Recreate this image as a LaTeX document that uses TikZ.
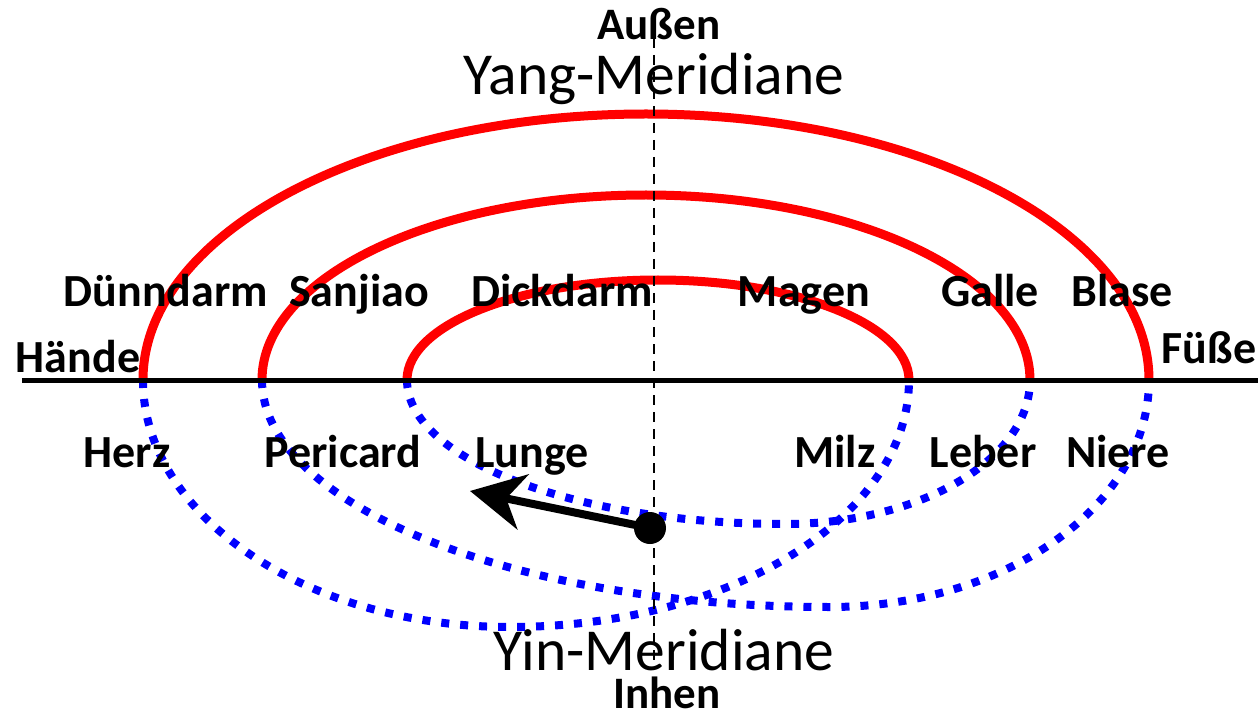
\documentclass[tikz,border=0pt]{standalone}
\usepackage{fontspec}
\setmainfont{Carlito}
\usetikzlibrary{arrows.meta}

\begin{document}
\begin{tikzpicture}[x=1pt, y=1pt,
    yang/.style={red, line width=9pt},
    yin/.style={blue, line width=8pt, dash pattern=on 8pt off 11pt},
    organ/.style={font=\fontsize{46}{46}\selectfont\bfseries, anchor=base, inner sep=0pt},
    pole/.style={font=\fontsize{45}{45}\selectfont\bfseries, anchor=base, inner sep=0pt},
    group/.style={font=\fontsize{59.5}{59.5}\selectfont, anchor=base, inner sep=0pt}]
  \useasboundingbox (-654,-335) rectangle (604,380);
  \coordinate (h1) at (-511,0);
  \coordinate (h2) at (-392,0);
  \coordinate (h3) at (-247,0);
  \coordinate (f3) at (255,0);
  \coordinate (f2) at (376,0);
  \coordinate (f1) at (495,0);
  \coordinate (west) at (-632,0);
  \coordinate (east) at (604,0);
  \coordinate (up) at (0,342);
  \coordinate (down) at (0,-290);

  \draw[yang] (h1) arc[start angle=180, end angle=0, x radius=503pt, y radius=266pt];
  \draw[yang] (h2) arc[start angle=180, end angle=0, x radius=384pt, y radius=185pt];
  \draw[yang] (h3) arc[start angle=180, end angle=0, x radius=251pt, y radius=100pt];

  \draw[yin] (h1) arc[start angle=180, end angle=270, x radius=367pt, y radius=247pt]
                 arc[start angle=270, end angle=360, x radius=399pt, y radius=247pt];
  \draw[yin] (h2) arc[start angle=180, end angle=270, x radius=568pt, y radius=227pt]
                 arc[start angle=270, end angle=360, x radius=319pt, y radius=227pt];
  \draw[yin] (h3) arc[start angle=180, end angle=270, x radius=378pt, y radius=144pt]
                 arc[start angle=270, end angle=360, x radius=245pt, y radius=144pt];

  \draw[line width=5pt] (west) -- (east);
  \draw[line width=2pt, dash pattern=on 10pt off 7pt] (up) -- (down);

  \node[pole] (aussen) at (5,340) {Außen};
  \node[group] (yang) at (0,285) {Yang-Meridiane};
  \node[group] (yin) at (10,-290) {Yin-Meridiane};
  \node[pole] (inhen) at (13,-328) {Inhen};
  \node[organ] (haende) at (-576,8) {Hände};
  \node[organ] (fuesse) at (555,17) {Füße};

  \node[organ] (duenndarm) at (-488,73) {Dünndarm};
  \node[organ] (sanjiao) at (-295,73) {Sanjiao};
  \node[organ] (dickdarm) at (-92,73) {Dickdarm};
  \node[organ] (magen) at (150,73) {Magen};
  \node[organ] (galle) at (336,73) {Galle};
  \node[organ] (blase) at (468,73) {Blase};

  \node[organ] (herz) at (-527,-87) {Herz};
  \node[organ] (pericard) at (-311,-87) {Pericard};
  \node[organ] (lunge) at (-122,-87) {Lunge};
  \node[organ] (milz) at (181,-87) {Milz};
  \node[organ] (leber) at (329,-87) {Leber};
  \node[organ] (niere) at (464,-87) {Niere};

  \node[circle, fill, inner sep=0pt, minimum size=32pt] (qi) at (-4,-148) {};
  \coordinate (tip) at (-184,-111);
  \draw[line width=8pt, -{Stealth[length=54pt, width=56pt, inset=17pt]}] (qi.center) -- (tip);
\end{tikzpicture}
\end{document}
